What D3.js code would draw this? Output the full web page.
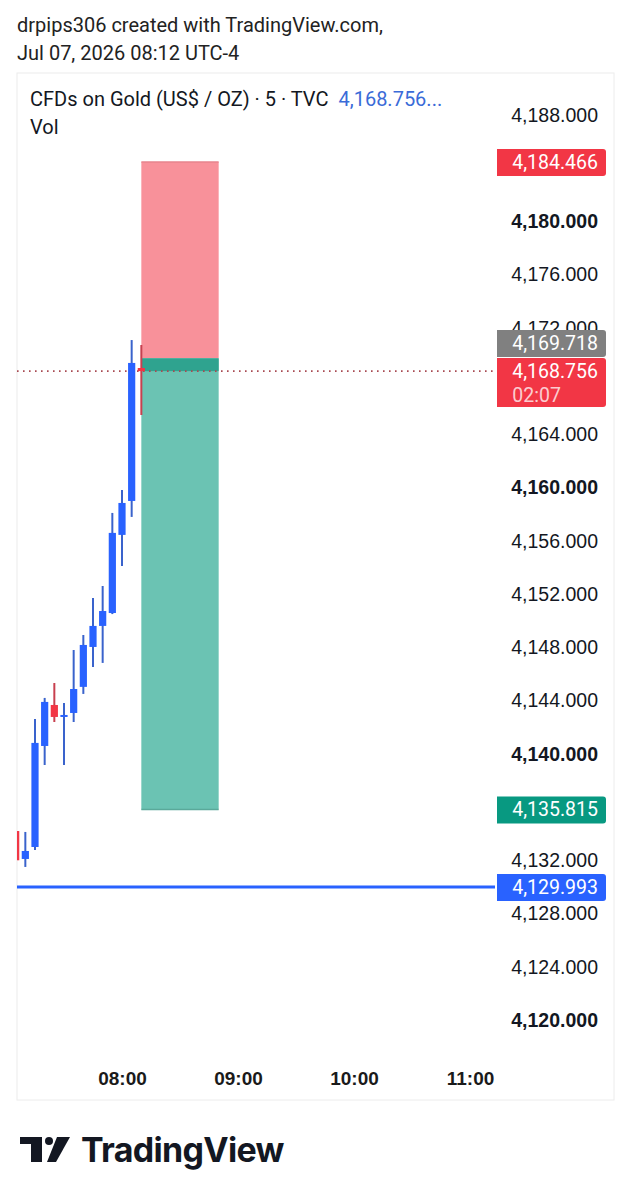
<!DOCTYPE html>
<html>
    <head>
        <meta charset="utf-8">
        <title>XAUUSD 5m</title>
        <style>
            html, body {
                margin: 0px;
                padding: 0px;
                background-color: #fff;
                font-family: Roboto, "Noto Sans", sans-serif;
            }

            svg text {
                fill: #131722;
            }

            .priceAxis text {
                font-size: 19.5px;
            }

            .priceAxis text.bold {
                font-weight: bold;
            }

            .timeAxis text {
                font-size: 19px;
                font-weight: bold;
                fill: #1a1a1a;
            }

            .priceAxis .domain, .timeAxis .domain {
                stroke: none;
            }

            .tag text {
                fill: #fff;
                font-size: 19.5px;
            }
        </style>
        <script src="https://cdn.jsdelivr.net/npm/d3@7"></script>
    </head>
    <body>
        <div id="main"></div>

        <script>
            // 5 minute candles
            var candleTimes = ["07:05", "07:10", "07:15", "07:20", "07:25", "07:30", "07:35",
                               "07:40", "07:45", "07:50", "07:55", "08:00", "08:05", "08:10"];
            var opens  = [4134.20, 4132.10, 4133.00, 4140.59, 4143.67, 4142.77, 4143.07,
                          4145.03, 4148.03, 4149.61, 4150.58, 4156.45, 4159.00, 4168.99];
            var highs  = [4134.30, 4134.13, 4142.62, 4144.20, 4145.32, 4143.82, 4147.80,
                          4148.93, 4151.71, 4152.61, 4158.10, 4159.83, 4171.09, 4170.72];
            var lows   = [4131.90, 4131.50, 4132.78, 4139.16, 4142.39, 4139.16, 4142.39,
                          4144.50, 4146.53, 4146.83, 4150.50, 4154.12, 4157.80, 4165.46];
            var closes = [4132.00, 4132.70, 4140.82, 4143.90, 4142.77, 4142.92, 4144.87,
                          4148.18, 4149.61, 4150.73, 4156.60, 4158.85, 4169.37, 4168.756];

            // visible price labels (the others sit under the price tags)
            var priceTicks = [4188, 4180, 4176, 4172, 4164, 4160, 4156, 4152, 4148,
                              4144, 4140, 4132, 4128, 4124, 4120];
            var timeTicks = ["08:00", "09:00", "10:00", "11:00"];

            // short position tool
            var positionStart = "08:10";
            var positionEnd = "08:50";
            var entryPrice = 4169.718;
            var stopPrice = 4184.466;
            var targetPrice = 4135.815;
            var lastPrice = 4168.756;
            var countdown = "02:07";
            var hLinePrice = 4129.993;

            var width = 631;
            var height = 1200;
            var paneLeft = 17, paneRight = 495, paneTop = 74, paneBottom = 1050;

            function t(s) {
                var p = s.split(":");
                return new Date(2026, 6, 7, +p[0], +p[1]);
            }

            var fmt = d3.format(",.3f");

            function tag(g, yc, h, color, lines) {
                var x0 = 497, x1 = 606, r = 3;
                var top = yc - 13;
                var path = "M" + x0 + "," + top + "H" + (x1 - r) + "Q" + x1 + "," + top + " " + x1 + "," + (top + r) +
                           "V" + (top + h - r) + "Q" + x1 + "," + (top + h) + " " + (x1 - r) + "," + (top + h) + "H" + x0 + "Z";
                var tg = g.append("g").attr("class", "tag");
                tg.append("path").attr("d", path).attr("fill", color);
                var first = tg.append("text")
                    .attr("x", 598)
                    .attr("y", yc)
                    .attr("dy", "0.35em")
                    .attr("text-anchor", "end")
                    .text(lines[0]);
                var left = 598 - first.node().getComputedTextLength();
                lines.slice(1).forEach(function(l, i) {
                    tg.append("text")
                        .attr("x", left)
                        .attr("y", yc + (i + 1) * 24)
                        .attr("dy", "0.35em")
                        .style("fill-opacity", 0.75)
                        .text(l);
                });
                return top;
            }

            function main() {
                var svg = d3.select("#main")
                            .append("svg")
                            .attr("width", width)
                            .attr("height", height);

                svg.append("rect").attr("width", width).attr("height", height).attr("fill", "#fff");

                var x = d3.scaleTime()
                            .domain([t("07:00"), t("11:00")])
                            .range([6, 470]);

                var y = d3.scaleLinear()
                            .domain([4120, 4188])
                            .range([1020, 115]);

                // header
                svg.append("text").attr("x", 17).attr("y", 25).attr("dy", "0.35em")
                    .style("font-size", "20px").style("fill", "#222")
                    .text("drpips306 created with TradingView.com,");
                svg.append("text").attr("x", 17).attr("y", 53).attr("dy", "0.35em")
                    .style("font-size", "20px").style("fill", "#222")
                    .text("Jul 07, 2026 08:12 UTC-4");

                svg.append("rect")
                    .attr("x", 17).attr("y", 73).attr("width", 597).attr("height", 1027)
                    .attr("fill", "none").attr("stroke", "#ececec");

                var legend = svg.append("text").attr("x", 30).attr("y", 99).attr("dy", "0.35em")
                    .style("font-size", "20px");
                legend.append("tspan").text("CFDs on Gold (US$ / OZ) · 5 · TVC");
                legend.append("tspan").style("fill", "#3a6bd8").attr("dx", 10).text(fmt(lastPrice) + "...");
                svg.append("text").attr("x", 30).attr("y", 127).attr("dy", "0.35em")
                    .style("font-size", "20px").text("Vol");

                // price axis
                var pa = svg.append("g")
                    .attr("class", "priceAxis")
                    .attr("transform", "translate(598,0)")
                    .call(d3.axisRight(y).tickValues(priceTicks).tickSize(0).tickFormat(fmt));
                pa.selectAll(".tick text")
                    .attr("x", 0)
                    .attr("text-anchor", "end")
                    .classed("bold", function(d) { return d % 20 === 0; });

                // time axis
                var ta = svg.append("g")
                    .attr("class", "timeAxis")
                    .attr("transform", "translate(0,1068)")
                    .call(d3.axisBottom(x).tickValues(timeTicks.map(t)).tickSize(0).tickFormat(d3.timeFormat("%H:%M")));
                ta.selectAll(".tick text").attr("y", 10).attr("dy", "0.35em");

                // chart pane
                svg.append("clipPath").attr("id", "pane")
                    .append("rect")
                    .attr("x", paneLeft).attr("y", paneTop)
                    .attr("width", paneRight - paneLeft).attr("height", paneBottom - paneTop);

                var pane = svg.append("g").attr("clip-path", "url(#pane)");

                var px0 = x(t(positionStart)), px1 = x(t(positionEnd));

                pane.append("rect")
                    .attr("x", px0).attr("width", px1 - px0)
                    .attr("y", y(stopPrice)).attr("height", y(entryPrice) - y(stopPrice))
                    .attr("fill", "#f8919a");
                pane.append("line")
                    .attr("x1", px0).attr("x2", px1).attr("y1", y(stopPrice)).attr("y2", y(stopPrice))
                    .attr("stroke", "#e7838c").attr("stroke-width", 1.5);

                pane.append("rect")
                    .attr("x", px0).attr("width", px1 - px0)
                    .attr("y", y(entryPrice)).attr("height", y(targetPrice) - y(entryPrice))
                    .attr("fill", "#6bc3b3");
                pane.append("rect")
                    .attr("x", px0).attr("width", px1 - px0)
                    .attr("y", y(entryPrice)).attr("height", y(lastPrice) - y(entryPrice))
                    .attr("fill", "#2fa38f");
                pane.append("line")
                    .attr("x1", px0).attr("x2", px1).attr("y1", y(targetPrice)).attr("y2", y(targetPrice))
                    .attr("stroke", "#5aa99a").attr("stroke-width", 1.5);

                // horizontal line
                pane.append("line")
                    .attr("x1", paneLeft).attr("x2", paneRight)
                    .attr("y1", y(hLinePrice)).attr("y2", y(hLinePrice))
                    .attr("stroke", "#2962ff").attr("stroke-width", 3);

                // last price line
                pane.append("line")
                    .attr("x1", paneLeft).attr("x2", paneRight)
                    .attr("y1", y(lastPrice)).attr("y2", y(lastPrice))
                    .attr("stroke", "#a84a52").attr("stroke-width", 1.6)
                    .attr("stroke-dasharray", "1.6,4.4");

                var data = candleTimes.map(function(s, i) {
                    return { time: t(s), o: opens[i], h: highs[i], l: lows[i], c: closes[i] };
                });

                var node = pane.selectAll("g.candle")
                    .data(data)
                    .enter()
                    .append("g")
                    .attr("class", "candle");

                node.append("line")
                    .attr("x1", function(d) { return x(d.time); })
                    .attr("x2", function(d) { return x(d.time); })
                    .attr("y1", function(d) { return y(d.h); })
                    .attr("y2", function(d) { return y(d.l); })
                    .attr("stroke", function(d) { return d.c >= d.o ? "#3a63cc" : "#c8404f"; })
                    .attr("stroke-width", 2);

                node.append("rect")
                    .attr("x", function(d) { return x(d.time) - 3.6; })
                    .attr("width", 7.2)
                    .attr("y", function(d) { return y(Math.max(d.o, d.c)); })
                    .attr("height", function(d) { return Math.max(2, Math.abs(y(d.o) - y(d.c))); })
                    .attr("fill", function(d) { return d.c >= d.o ? "#2962ff" : "#f23645"; });

                // price tags
                var tags = svg.append("g");
                tag(tags, y(stopPrice), 27, "#f23645", [fmt(stopPrice)]);
                var redTop = tag(tags, y(lastPrice), 49, "#f23645", [fmt(lastPrice), countdown]);
                tag(tags, redTop - 15, 27, "#808080", [fmt(entryPrice)]);
                tag(tags, y(targetPrice), 27, "#089981", [fmt(targetPrice)]);
                tag(tags, y(hLinePrice), 27, "#2962ff", [fmt(hLinePrice)]);

                // logo
                var logo = svg.append("g").attr("fill", "#131722");
                logo.append("path").attr("d", "M20,1137H42V1162H31V1144H20Z");
                logo.append("circle").attr("cx", 49).attr("cy", 1141).attr("r", 4);
                logo.append("path").attr("d", "M57,1137H70L56,1162H47Z");
                logo.append("text")
                    .attr("x", 81).attr("y", 1162)
                    .style("font-family", "Inter, Roboto, sans-serif")
                    .style("font-size", "34px").style("font-weight", "bold")
                    .style("letter-spacing", "-0.7px")
                    .text("TradingView");
            }

            main();
        </script>
    </body>
</html>
